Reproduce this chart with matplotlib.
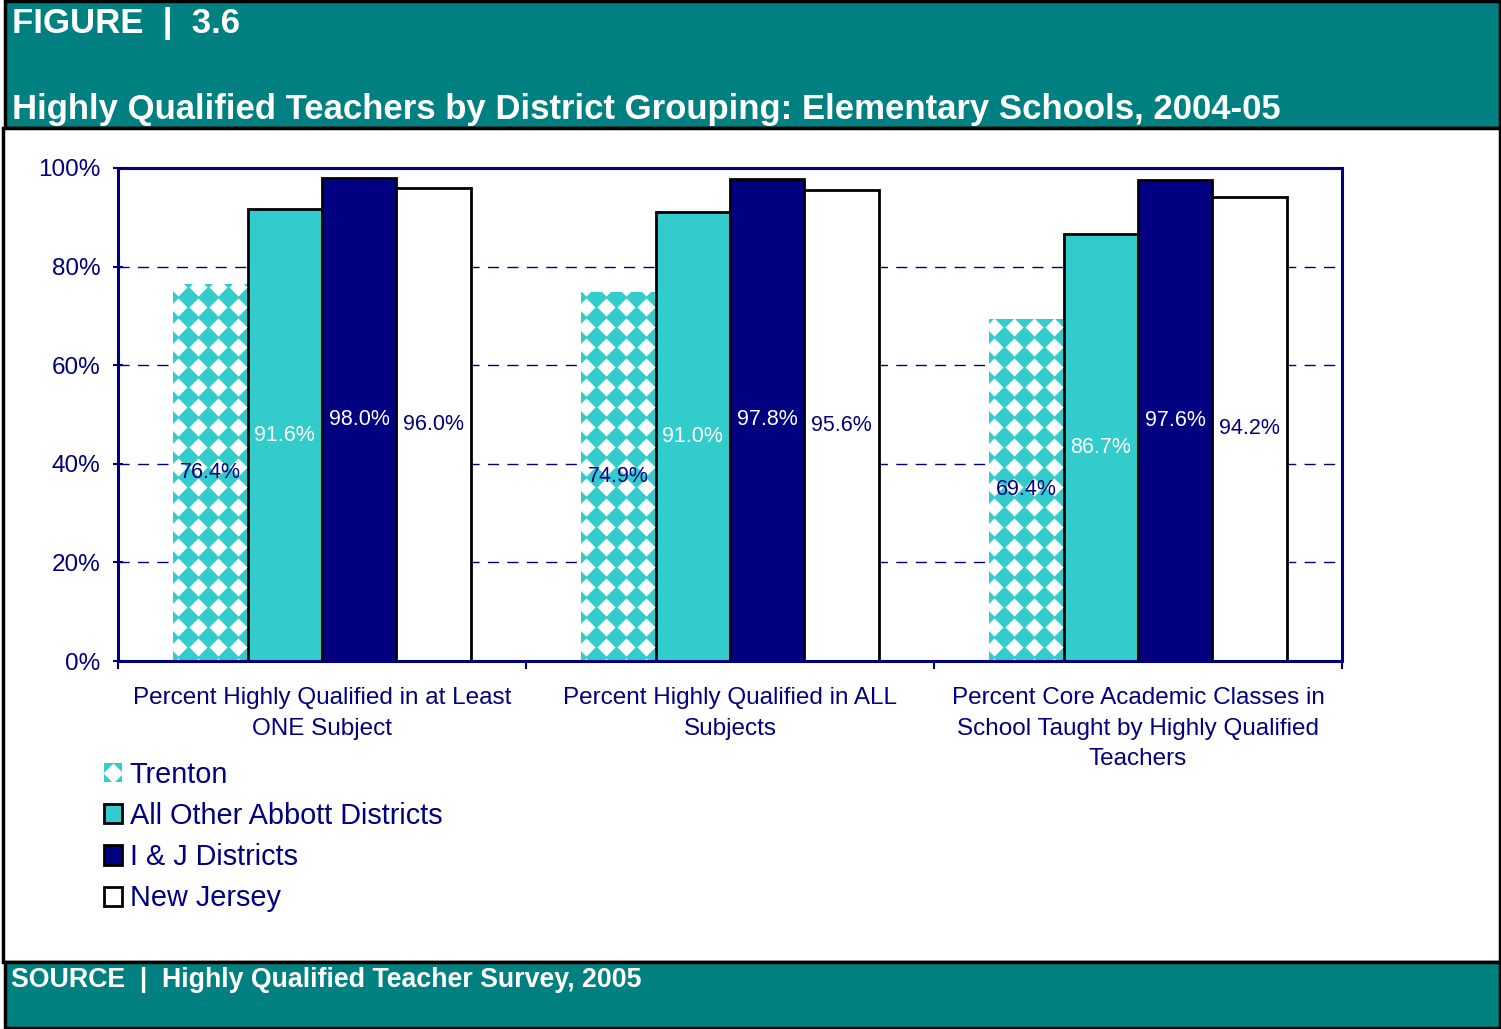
import numpy as np
import matplotlib.pyplot as plt
from matplotlib.patches import Rectangle
from matplotlib.lines import Line2D

plt.rcParams['font.family'] = ['Liberation Sans', 'DejaVu Sans']

# data
categories = ['Percent Highly Qualified in at Least\nONE Subject',
              'Percent Highly Qualified in ALL\nSubjects',
              'Percent Core Academic Classes in\nSchool Taught by Highly Qualified\nTeachers']
series = ['Trenton', 'All Other Abbott Districts', 'I & J Districts', 'New Jersey']
trenton = [76.4, 74.9, 69.4]
abbott = [91.6, 91.0, 86.7]
ij = [98.0, 97.8, 97.6]
nj = [96.0, 95.6, 94.2]
yticks = [0, 20, 40, 60, 80, 100]

teal = '#008080'
navy = '#000080'
turq = '#33CCCC'
W, H = 1501, 1029

fig = plt.figure(figsize=(W / 100, H / 100), dpi=100)

# header / body / footer panels (pixel coords -> figure fraction)
def box(x0, y0, x1, y1, fc, lw=2.5):
    fig.patches.append(Rectangle((x0 / W, 1 - y1 / H), (x1 - x0) / W, (y1 - y0) / H,
                                 transform=fig.transFigure, facecolor=fc,
                                 edgecolor='black', linewidth=lw, zorder=-5))

box(5, 1, 1500, 128, teal)
box(3, 128, 1500, 962, 'white')
box(5, 962, 1500, 1028, teal)

fig.text(12 / W, 1 - 23 / H, 'FIGURE  |  3.6', color='white', fontsize=25,
         fontweight='bold', va='center', ha='left')
fig.text(12 / W, 1 - 110 / H,
         'Highly Qualified Teachers by District Grouping: Elementary Schools, 2004-05',
         color='white', fontsize=25, fontweight='bold', va='center', ha='left')
fig.text(11 / W, 1 - 980 / H, 'SOURCE  |  Highly Qualified Teacher Survey, 2005',
         color='white', fontsize=19.3, fontweight='bold', va='center', ha='left')

ax = fig.add_axes([118 / W, 1 - 661 / H, (1342 - 118) / W, (661 - 168) / H])
ax.patch.set_alpha(0)
ax.set_xlim(-0.5, 2.5)
ax.set_ylim(0, 100)
x = np.arange(len(categories))
bw = 0.1825
offs = (np.arange(4) - 1.5) * bw

tb = ax.bar(x + offs[0], trenton, bw, color=turq, linewidth=0, zorder=2)
ax.bar(x + offs[1], abbott, bw, color=turq, edgecolor='black', linewidth=2, zorder=2)
ax.bar(x + offs[2], ij, bw, color=navy, edgecolor='black', linewidth=2, zorder=2)
ax.bar(x + offs[3], nj, bw, color='white', edgecolor='black', linewidth=2, zorder=2)

# Trenton texture: white diamonds on a 20 px grid, clipped to each bar
step_x = 20 / (ax.bbox.width / 3)
step_y = 20 / (ax.bbox.height / 100)
for p in tb.patches:
    gx = np.arange(p.get_x() + 5 / 20 * step_x, p.get_x() + p.get_width() + step_x, step_x)
    gy = np.arange(-0.3 * step_y, p.get_height() + step_y, step_y)
    GX, GY = np.meshgrid(gx, gy)
    sc = ax.scatter(GX.ravel(), GY.ravel(), marker=(4, 0, 0), s=13 ** 2, c='white',
                    linewidths=0, zorder=2.5)
    sc.set_clip_path(p)

lab_colors = [navy, 'white', 'white', navy]
for k, vals in enumerate([trenton, abbott, ij, nj]):
    for i, v in enumerate(vals):
        ax.text(x[i] + offs[k], v / 2, f'{v:.1f}%', ha='center', va='center',
                color=lab_colors[k], fontsize=15.5, zorder=3)

ax.set_yticks(yticks)
ax.set_yticklabels([f'{t}%' for t in yticks])
ax.set_xticks([-0.5, 0.5, 1.5, 2.5])
ax.set_xticklabels([])
ax.set_xticks(x, minor=True)
ax.set_xticklabels(categories, minor=True, linespacing=1.5)
ax.tick_params(axis='x', which='minor', length=0, pad=19, labelsize=17.5, labelcolor=navy)
ax.tick_params(axis='x', which='major', length=6, width=1.5, color=navy, direction='out')
ax.tick_params(axis='y', length=7, width=1.5, color=navy, direction='inout',
               labelsize=17.5, labelcolor=navy, pad=9)
for sp in ax.spines.values():
    sp.set_color(navy)
    sp.set_linewidth(2.2)
    sp.set_zorder(4)
ax.yaxis.grid(True, color=navy, linestyle=(0, (8, 6)), linewidth=1)
ax.set_axisbelow(True)

# legend
tr_handle = (Rectangle((0, 0), 1, 1, facecolor=turq, edgecolor=turq, linewidth=0),
             Line2D([], [], marker=(4, 0, 0), markersize=13, color='white', linestyle=''))
handles = [tr_handle,
           Rectangle((0, 0), 1, 1, facecolor=turq, edgecolor='black', linewidth=2),
           Rectangle((0, 0), 1, 1, facecolor=navy, edgecolor='black', linewidth=2),
           Rectangle((0, 0), 1, 1, facecolor='white', edgecolor='black', linewidth=2)]
leg = fig.legend(handles, series, loc='upper left', bbox_to_anchor=(92 / W, 1 - 749 / H),
                 frameon=False, fontsize=20.8, handlelength=0.65, handleheight=0.65,
                 handletextpad=0.25, labelspacing=0.46, borderaxespad=0)
for t in leg.get_texts():
    t.set_color(navy)

fig.savefig('out.png', dpi=100)
